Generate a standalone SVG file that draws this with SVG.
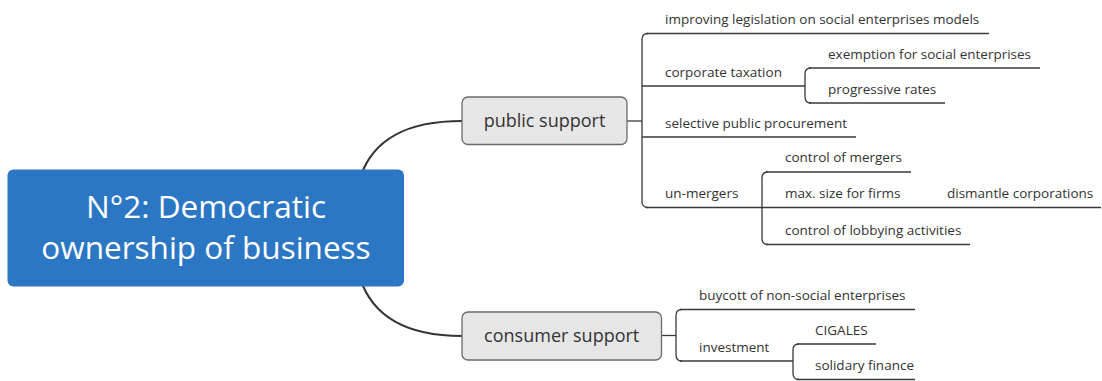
<svg xmlns="http://www.w3.org/2000/svg" width="1102" height="381" viewBox="0 0 1102 381">
<style>
.bg{fill:#ffffff}
.main{fill:none;stroke:#353535;stroke-width:2.2}
.br{fill:none;stroke:#3a3a3a;stroke-width:1.3}
.ul{fill:none;stroke:#3a3a3a;stroke-width:1.3}
.central{fill:#2b77c3}
.ctext{font-family:"Open Sans","Noto Sans",sans-serif;font-size:31.5px;fill:#ffffff;text-anchor:middle}
.box{fill:#e6e6e6;stroke:#6a6a6a;stroke-width:1.3}
.btext{font-family:"Open Sans","Noto Sans",sans-serif;font-size:18px;fill:#333333;text-anchor:middle}
.t{font-family:"Open Sans","Noto Sans",sans-serif;font-size:13.5px;fill:#333333}
</style>
<rect class="bg" x="0" y="0" width="1102" height="381"/>
<g id="connectors">
<path class="main" d="M360,178 C373,138 408,121 462,121"/>
<path class="main" d="M360,278 C373,318 408,336 462,336"/>
<path class="br" d="M627,121 H642"/>
<path class="br" d="M648,33.5 Q642,33.5 642,39.5 V201.5 Q642,207.5 648,207.5"/>
<path class="br" d="M811,68 Q805,68 805,74 V97 Q805,103 811,103"/>
<path class="br" d="M768,172 Q762,172 762,178 V238.5 Q762,244.5 768,244.5"/>
<path class="br" d="M662,335.5 H676"/>
<path class="br" d="M682,309.5 Q676,309.5 676,315.5 V355 Q676,361 682,361"/>
<path class="br" d="M799,344 Q793,344 793,350 V373.5 Q793,379.5 799,379.5"/>
</g>
<g id="central">
<rect class="central" x="7.5" y="169.5" width="396.5" height="117" rx="6"/>
<text class="ctext" x="206" y="218">N°2: Democratic</text>
<text class="ctext" x="206" y="259">ownership of business</text>
</g>
<g id="public-support">
<rect class="box" x="462" y="97" width="165" height="47.5" rx="6"/>
<text class="btext" x="544.5" y="127">public support</text>
</g>
<g id="consumer-support">
<rect class="box" x="462" y="312" width="199.5" height="48" rx="6"/>
<text class="btext" x="561.7" y="342">consumer support</text>
</g>
<g id="improving-legislation">
<path class="ul" d="M646,33.5 H989"/>
<text class="t" x="665" y="24">improving legislation on social enterprises models</text>
</g>
<g id="corporate-taxation">
<path class="ul" d="M642,86 H805"/>
<text class="t" x="665" y="76.5">corporate taxation</text>
</g>
<g id="exemption">
<path class="ul" d="M809,68 H1040"/>
<text class="t" x="828" y="58.5">exemption for social enterprises</text>
</g>
<g id="progressive-rates">
<path class="ul" d="M809,103 H945"/>
<text class="t" x="828" y="93.5">progressive rates</text>
</g>
<g id="selective-procurement">
<path class="ul" d="M642,137 H856"/>
<text class="t" x="665" y="127.5">selective public procurement</text>
</g>
<g id="un-mergers">
<path class="ul" d="M646,207.5 H762"/>
<text class="t" x="665" y="198">un-mergers</text>
</g>
<g id="control-mergers">
<path class="ul" d="M766,172 H911"/>
<text class="t" x="785" y="162">control of mergers</text>
</g>
<g id="max-size">
<path class="ul" d="M762,207.5 H924"/>
<text class="t" x="785" y="198">max. size for firms</text>
</g>
<g id="dismantle">
<path class="ul" d="M924,207.5 H1101"/>
<text class="t" x="947" y="198">dismantle corporations</text>
</g>
<g id="control-lobbying">
<path class="ul" d="M766,244.5 H970"/>
<text class="t" x="785" y="234.5">control of lobbying activities</text>
</g>
<g id="buycott">
<path class="ul" d="M680,309.5 H915"/>
<text class="t" x="699" y="300">buycott of non-social enterprises</text>
</g>
<g id="investment">
<path class="ul" d="M680,361 H793"/>
<text class="t" x="699" y="351.5">investment</text>
</g>
<g id="cigales">
<path class="ul" d="M797,344 H876"/>
<text class="t" x="815" y="334.5">CIGALES</text>
</g>
<g id="solidary-finance">
<path class="ul" d="M797,379.5 H915"/>
<text class="t" x="815" y="370">solidary finance</text>
</g>
</svg>
